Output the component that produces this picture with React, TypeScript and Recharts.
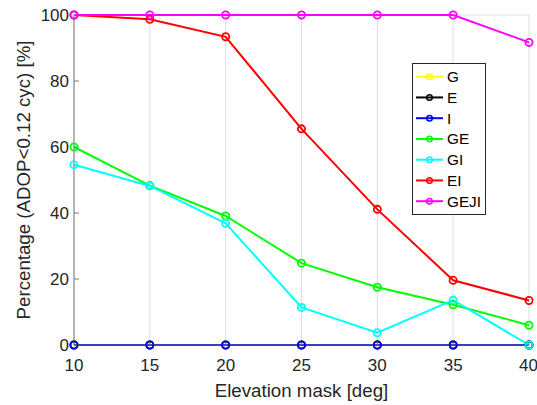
import React from 'react';
import { LineChart, Line, XAxis, YAxis, CartesianGrid, Legend } from 'recharts';

// elevation mask [deg]
const elevation = [10, 15, 20, 25, 30, 35, 40];

// percentage of epochs with ADOP < 0.12 cyc, per constellation combo
const G = [0, 0, 0, 0, 0, 0, 0];
const E = [0, 0, 0, 0, 0, 0, 0];
const I = [0, 0, 0, 0, 0, 0, 0];
const GE = [60, 48.3, 39.1, 24.8, 17.5, 12.2, 6.0];
const GI = [54.6, 48.2, 36.9, 11.4, 3.7, 13.6, 0];
const EI = [100, 98.7, 93.4, 65.5, 41.1, 19.6, 13.5];
const GEJI = [100, 100, 100, 100, 100, 100, 91.7];

const xTicks = [10, 15, 20, 25, 30, 35, 40];
const yTicks = [0, 20, 40, 60, 80, 100];

const series = [
  { key: 'G', values: G, color: '#ffff00' },
  { key: 'E', values: E, color: '#000000' },
  { key: 'I', values: I, color: '#0000ff' },
  { key: 'GE', values: GE, color: '#00ff00' },
  { key: 'GI', values: GI, color: '#00ffff' },
  { key: 'EI', values: EI, color: '#ff0000' },
  { key: 'GEJI', values: GEJI, color: '#ff00ff' },
];

const data = elevation.map((e, i) => {
  const row: Record<string, number> = { e };
  series.forEach((s) => (row[s.key] = s.values[i]));
  return row;
});

const FONT = '"Liberation Sans", Arial, Helvetica, sans-serif';
const AXIS = '#7a7a7a';
const TEXT = '#262626';

function MatlabLegend() {
  const rowH = 20.75;
  return (
    <div style={{ width: 74, height: 152, boxSizing: 'border-box', border: '1px solid #262626', background: '#fff' }}>
      <svg width={72} height={150} style={{ display: 'block' }}>
        {series.map((s, i) => {
          const cy = 12.7 + i * rowH;
          return (
            <g key={s.key}>
              <line x1={3} x2={30} y1={cy} y2={cy} stroke={s.color} strokeWidth={2} />
              <circle cx={16.5} cy={cy} r={2.8} stroke={s.color} strokeWidth={1.5} fill="none" />
              <text x={34} y={cy} dominantBaseline="central" fontSize={15.3} fill="#000" fontFamily={FONT}>
                {s.key}
              </text>
            </g>
          );
        })}
      </svg>
    </div>
  );
}

export default function App() {
  return (
    <div style={{ position: 'absolute', left: 0, top: 0, width: 537, height: 405, background: '#fff', fontFamily: FONT }}>
      <LineChart width={537} height={405} data={data} margin={{ top: 15, right: 8, bottom: 0, left: 0 }}>
        <CartesianGrid stroke="#dfdfdf" strokeWidth={1} verticalCoordinatesGenerator={undefined} />
        <XAxis
          dataKey="e"
          type="number"
          domain={[10, 40]}
          ticks={xTicks}
          height={60}
          tickSize={-5}
          tickMargin={18.6}
          stroke={AXIS}
          tick={{ fill: TEXT, fontSize: 17 }}
          label={{ value: 'Elevation mask [deg]', position: 'insideBottom', offset: 8, fill: TEXT, fontSize: 18.7 }}
        />
        <XAxis xAxisId="top" dataKey="e" type="number" domain={[10, 40]} ticks={xTicks} orientation="top" height={0} tickSize={-5} stroke={AXIS} tick={() => <g />} />
        <YAxis
          yAxisId="left"
          domain={[0, 100]}
          ticks={yTicks}
          width={74}
          tickSize={-5}
          tickMargin={10}
          stroke={AXIS}
          tick={{ fill: TEXT, fontSize: 17 }}
          label={{ value: 'Percentage (ADOP<0.12 cyc) [%]', angle: -90, position: 'insideLeft', offset: 23, fill: TEXT, fontSize: 18.7, style: { textAnchor: 'middle' } }}
        />
        <YAxis yAxisId="right" orientation="right" domain={[0, 100]} ticks={yTicks} width={0} tickSize={-5} stroke={AXIS} tick={() => <g />} />
        <Legend
          layout="horizontal"
          verticalAlign="middle"
          align="center"
          content={() => <MatlabLegend />}
          wrapperStyle={{ left: 412, top: 63, width: 74, height: 152 }}
        />
        {series.map((s) => (
          <Line
            key={s.key}
            yAxisId="left"
            dataKey={s.key}
            type="linear"
            stroke={s.color}
            strokeWidth={2}
            dot={{ r: 3.6, strokeWidth: 1.8, fill: 'none', stroke: s.color }}
            activeDot={false}
            isAnimationActive={false}
          />
        ))}
      </LineChart>
    </div>
  );
}
